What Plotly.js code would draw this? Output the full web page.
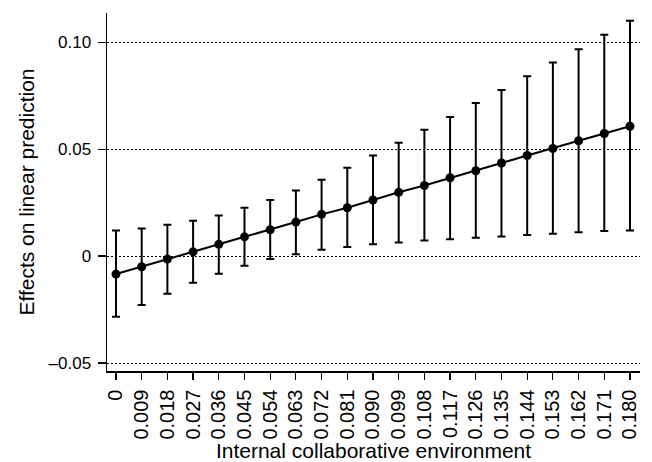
<!DOCTYPE html>
<html>
<head>
<meta charset="utf-8">
<script src="https://cdn.plot.ly/plotly-3.0.1.min.js"></script>
<style>html,body{margin:0;padding:0;background:#fff;}#chart{width:652px;height:462px;}</style>
</head>
<body>
<div id="chart"></div>
<script>
var categories = ['0','0.009','0.018','0.027','0.036','0.045','0.054','0.063','0.072','0.081','0.090','0.099','0.108','0.117','0.126','0.135','0.144','0.153','0.162','0.171','0.180'];
var estimate = [-0.0084,-0.0050,-0.0014,0.0020,0.0055,0.0090,0.0123,0.0159,0.0195,0.0226,0.0262,0.0298,0.0330,0.0366,0.0399,0.0435,0.0470,0.0503,0.0539,0.0573,0.0607];
var upper = [0.0120,0.0129,0.0146,0.0165,0.0190,0.0226,0.0262,0.0307,0.0357,0.0413,0.0470,0.0530,0.0590,0.0650,0.0715,0.0776,0.0841,0.0905,0.0967,0.1034,0.1100];
var lower = [-0.0284,-0.0229,-0.0176,-0.0125,-0.0083,-0.0045,-0.0014,0.0009,0.0030,0.0042,0.0055,0.0064,0.0073,0.0079,0.0086,0.0092,0.0098,0.0104,0.0111,0.0117,0.0120];
var yTicks = [-0.05, 0, 0.05, 0.10];
var yTickText = ['\u20130.05', '0', '0.05', '0.10'];

var plus = upper.map(function(u, i){ return u - estimate[i]; });
var minus = lower.map(function(l, i){ return estimate[i] - l; });

var trace = {
  x: categories,
  y: estimate,
  type: 'scatter',
  mode: 'lines+markers',
  line: {color: '#000', width: 2},
  marker: {color: '#000', size: 9},
  error_y: {type: 'data', symmetric: false, array: plus, arrayminus: minus, color: '#000', thickness: 2, width: 4},
  showlegend: false,
  hoverinfo: 'skip'
};

var layout = {
  width: 652, height: 462,
  margin: {l: 107, r: 12, t: 13, b: 91},
  paper_bgcolor: '#fff', plot_bgcolor: '#fff',
  font: {family: 'Liberation Sans, Arial, sans-serif', color: '#000', size: 17},
  xaxis: {
    type: 'category',
    range: [-0.35, 20.39],
    showgrid: false, zeroline: false,
    showline: true, linecolor: '#000', linewidth: 1.5,
    ticks: 'outside', ticklen: 7, tickwidth: 1.2, tickcolor: '#000',
    tickangle: -90, ticklabelstandoff: 2,
    tickfont: {size: 20},
    title: {text: 'Internal collaborative environment', font: {size: 21}, standoff: 4}
  },
  yaxis: {
    range: [-0.0537, 0.1136],
    tickvals: yTicks, ticktext: yTickText,
    showgrid: true, gridcolor: '#000', gridwidth: 1, griddash: '2px,2px',
    zeroline: false,
    showline: true, linecolor: '#000', linewidth: 1.5,
    ticks: 'outside', ticklen: 8, tickwidth: 1.2, tickcolor: '#000',
    ticklabelstandoff: 3,
    tickfont: {size: 17},
    title: {text: 'Effects on linear prediction', font: {size: 21}, standoff: 8}
  }
};

Plotly.newPlot('chart', [trace], layout, {displayModeBar: false, staticPlot: true});
</script>
</body>
</html>
